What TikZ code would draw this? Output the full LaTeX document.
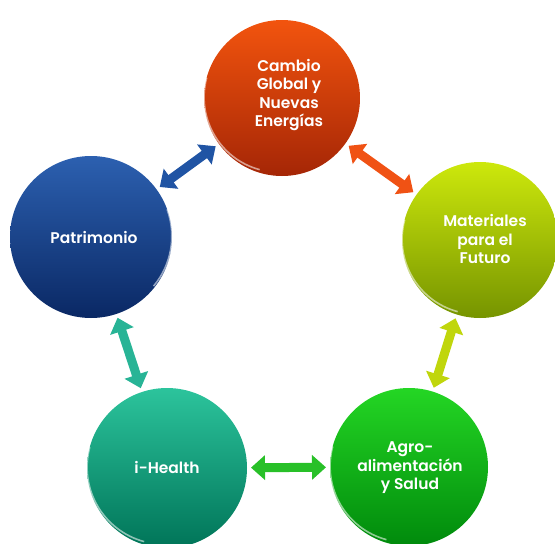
\documentclass[tikz,border=0pt]{standalone}
\usepackage{fontspec}
\setmainfont{Poppins}[UprightFont=* SemiBold]
\usetikzlibrary{arrows.meta}
\definecolor{camT}{RGB}{242,84,14}\definecolor{camB}{RGB}{165,38,6}
\definecolor{matT}{RGB}{205,232,12}\definecolor{matB}{RGB}{118,148,0}
\definecolor{agrT}{RGB}{36,214,36}\definecolor{agrB}{RGB}{0,138,12}
\definecolor{heaT}{RGB}{44,196,156}\definecolor{heaB}{RGB}{0,116,88}
\definecolor{patT}{RGB}{44,96,176}\definecolor{patB}{RGB}{10,40,100}
\definecolor{arBlue}{RGB}{32,84,164}\definecolor{arOrange}{RGB}{240,82,20}
\definecolor{arLime}{RGB}{192,214,12}\definecolor{arGreen}{RGB}{40,192,40}
\definecolor{arTeal}{RGB}{40,180,150}
\tikzset{
  bubble/.style={circle, inner sep=0pt, outer sep=0pt, text=white, align=center,
    font=\fontsize{15.5}{18.5}\selectfont},
  rim/.style={white, opacity=0.55, line width=1.6pt},
  link/.style={line width=9pt, shorten <=4pt, shorten >=4pt,
    {Triangle[length=14pt,width=24pt]}-{Triangle[length=14pt,width=24pt]}},
}
\begin{document}
\begin{tikzpicture}[x=1pt,y=-1pt]
\useasboundingbox (0,0) rectangle (555,544);
\node[bubble, minimum size=156pt, top color=camT, bottom color=camB] (cam) at (282,98) {};
\node[bubble, minimum size=156pt, top color=matT, bottom color=matB] (mat) at (480,240) {};
\node[bubble, minimum size=158pt, top color=agrT, bottom color=agrB] (agr) at (409,467) {};
\node[bubble, minimum size=160pt, top color=heaT, bottom color=heaB] (hea) at (167,468) {};
\node[bubble, minimum size=162pt, top color=patT, bottom color=patB] (pat) at (91,237) {};
\draw[rim] (cam.165) arc[start angle=165,end angle=255,radius=75pt];
\draw[rim] (mat.165) arc[start angle=165,end angle=255,radius=75pt];
\draw[rim] (agr.165) arc[start angle=165,end angle=255,radius=76pt];
\draw[rim] (hea.165) arc[start angle=165,end angle=255,radius=77pt];
\draw[rim] (pat.20) arc[start angle=20,end angle=-40,radius=78pt];
\node[bubble] (camt) at (289,95) {Cambio\\Global y\\Nuevas\\Energías};
\node[bubble] (matt) at (485,239) {Materiales\\para el\\Futuro};
\node[bubble] (agrt) at (410,468) {Agro-\\alimentación\\y Salud};
\node[bubble] (heat) at (167,467) {i-Health};
\node[bubble] (patt) at (94,237) {Patrimonio};
\draw[link, arBlue] (pat) -- (cam);
\draw[link, arOrange] (cam) -- (mat);
\draw[link, arLime] (mat) -- (agr);
\draw[link, arGreen] (agr) -- (hea);
\draw[link, arTeal] (hea) -- (pat);
\end{tikzpicture}
\end{document}
